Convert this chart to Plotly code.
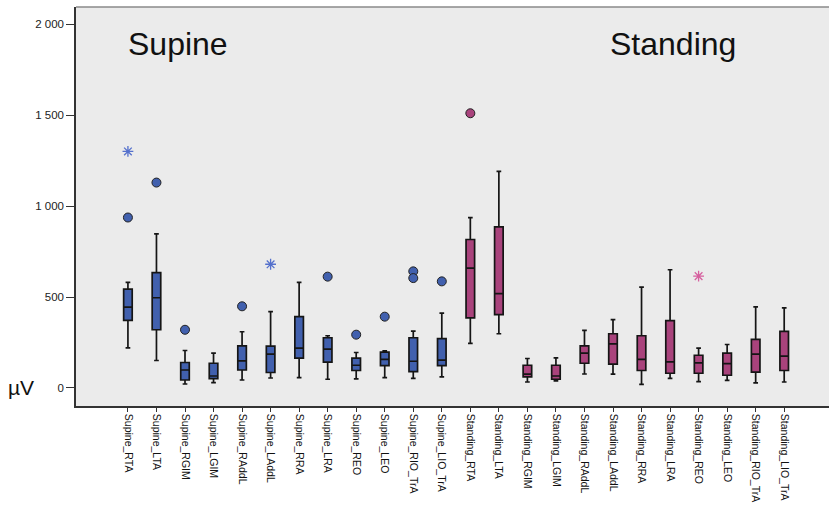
import plotly.graph_objects as go

# Muscle activity (µV) per muscle and posture: box-plot summary statistics
categories = [
    "Supine_RTA", "Supine_LTA", "Supine_RGIM", "Supine_LGIM", "Supine_RAddL",
    "Supine_LAddL", "Supine_RRA", "Supine_LRA", "Supine_REO", "Supine_LEO",
    "Supine_RIO_TrA", "Supine_LIO_TrA", "Standing_RTA", "Standing_LTA",
    "Standing_RGIM", "Standing_LGIM", "Standing_RAddL", "Standing_LAddL",
    "Standing_RRA", "Standing_LRA", "Standing_REO", "Standing_LEO",
    "Standing_RIO_TrA", "Standing_LIO_TrA",
]
lower_whisker = [221, 151, 22, 29, 44, 55, 57, 48, 50, 57, 53, 61,
                 245, 298, 33, 39, 77, 76, 20, 53, 35, 42, 28, 33]
q1_values = [372, 320, 44, 51, 99, 85, 164, 142, 96, 123, 90, 123,
             385, 403, 61, 48, 136, 131, 96, 81, 81, 70, 87, 96]
median_values = [444, 496, 99, 66, 149, 186, 219, 214, 125, 157, 147, 153,
                 659, 519, 76, 66, 192, 243, 157, 144, 138, 134, 186, 175]
q3_values = [543, 634, 140, 136, 232, 230, 392, 276, 164, 197, 276, 271,
             816, 886, 125, 125, 232, 298, 287, 370, 180, 192, 267, 311]
upper_whisker = [580, 847, 206, 192, 309, 420, 580, 287, 195, 204, 313, 412,
                 936, 1191, 162, 166, 317, 376, 554, 650, 219, 239, 446, 440]

# Outliers (circles) and extreme values (asterisks): category index, value
outlier_idx = [0, 1, 2, 4, 7, 8, 9, 10, 10, 11, 12]
outlier_val = [937, 1129, 320, 449, 612, 293, 392, 641, 604, 586, 1510]
extreme_idx = [0, 5, 20]
extreme_val = [1300, 680, 615]

y_ticks = [0, 500, 1000, 1500, 2000]

BLUE = "#4160ae"
PINK = "#a9437c"
STAR_BLUE = "#5470cc"
STAR_PINK = "#d6609f"


def group_color(i, supine, standing):
    return supine if categories[i].startswith("Supine") else standing


fig = go.Figure()

for i, name in enumerate(categories):
    fig.add_trace(go.Box(
        x=[i],
        q1=[q1_values[i]],
        median=[median_values[i]],
        q3=[q3_values[i]],
        lowerfence=[lower_whisker[i]],
        upperfence=[upper_whisker[i]],
        width=0.3,
        whiskerwidth=0.55,
        fillcolor=group_color(i, BLUE, PINK),
        line=dict(color="#151515", width=1.7),
        boxpoints=False,
        showlegend=False,
        hoverinfo="skip",
    ))

fig.add_trace(go.Scatter(
    x=outlier_idx, y=outlier_val, mode="markers",
    marker=dict(symbol="circle", size=9,
                color=[group_color(i, BLUE, PINK) for i in outlier_idx],
                line=dict(color="#222", width=1)),
    showlegend=False, hoverinfo="skip",
))

fig.add_trace(go.Scatter(
    x=extreme_idx, y=extreme_val, mode="markers",
    marker=dict(symbol="asterisk-open", size=9,
                color=[group_color(i, STAR_BLUE, STAR_PINK) for i in extreme_idx],
                line=dict(width=1.3)),
    showlegend=False, hoverinfo="skip",
))

FONT = "Liberation Sans, Arial, sans-serif"

fig.add_annotation(x=1.77, y=1890, text="Supine", showarrow=False,
                   font=dict(family=FONT, size=32, color="#111"))
fig.add_annotation(x=19.12, y=1890, text="Standing", showarrow=False,
                   font=dict(family=FONT, size=32, color="#111"))
fig.add_annotation(xref="paper", yref="y", x=-0.073, y=0, text="µV",
                   showarrow=False, xanchor="center", yanchor="middle",
                   font=dict(family=FONT, size=21, color="#111"))

# thin frame line along the top of the plotting area
fig.add_shape(type="line", xref="paper", yref="paper", x0=0, x1=1, y0=1, y1=1,
              line=dict(color="#8a8a8a", width=1.5))

fig.update_layout(
    width=829, height=505,
    margin=dict(l=76, r=0, t=7, b=99),
    paper_bgcolor="white",
    plot_bgcolor="#ebebeb",
    separators=". ",
    boxgap=0,
    font=dict(family=FONT, color="#222"),
)

fig.update_xaxes(
    range=[-1.82, 24.57], automargin=False,
    tickmode="array", tickvals=list(range(len(categories))), ticktext=categories,
    tickangle=90, ticks="outside", ticklen=4, tickcolor="#333",
    tickfont=dict(family=FONT, size=10.5, color="#111"),
    showline=True, linecolor="#333", linewidth=1.5,
    showgrid=False, zeroline=False,
)
fig.update_yaxes(
    range=[-99, 2094], automargin=False,
    tickmode="array", tickvals=y_ticks, tickformat=",d",
    ticks="outside", ticklen=8, tickcolor="#333",
    tickfont=dict(family=FONT, size=11.5, color="#222"),
    showline=True, linecolor="#333", linewidth=1.5,
    showgrid=False, zeroline=False,
)

fig.write_html("out.html")
